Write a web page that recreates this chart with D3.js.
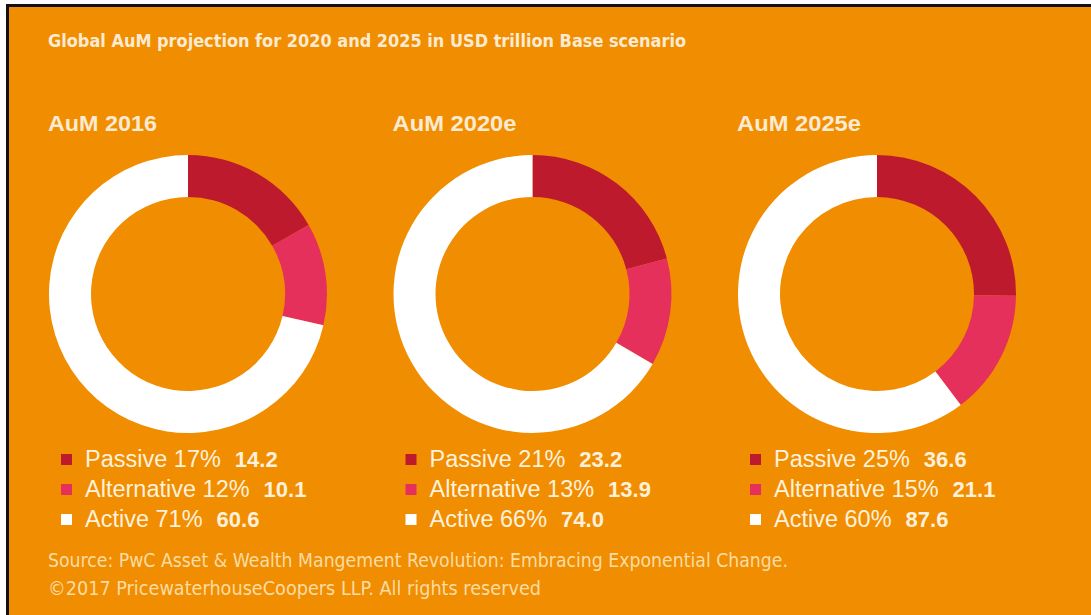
<!DOCTYPE html>
<html>
<head>
<meta charset="utf-8">
<script src="https://cdn.jsdelivr.net/npm/d3@7/dist/d3.min.js"></script>
<style>
  html, body { margin: 0; padding: 0; background: #ffffff; }
  svg { display: block; }
</style>
</head>
<body>
<svg id="chart" width="1091" height="615"></svg>
<script>
// Global assets under management, USD trillion (base scenario)
const years = ["AuM 2016", "AuM 2020e", "AuM 2025e"];
const categories = ["Passive", "Alternative", "Active"];
const passive = [14.2, 23.2, 36.6];
const alternative = [10.1, 13.9, 21.1];
const active = [60.6, 74.0, 87.6];
const passivePct = [17, 21, 25];
const alternativePct = [12, 13, 15];
const activePct = [71, 66, 60];

const title = "Global AuM projection for 2020 and 2025 in USD trillion Base scenario";
const sourceLines = [
  "Source: PwC Asset & Wealth Mangement Revolution: Embracing Exponential Change.",
  "\u00A92017 PricewaterhouseCoopers LLP. All rights reserved"
];

const W = 1091, H = 615;
const orange = "#F18D00";
const cream = "#FCEBD2";
const color = d3.scaleOrdinal()
  .domain(categories)
  .range(["#BE1A2E", "#E6305C", "#FFFFFF"]);

const svg = d3.select("#chart");

// frame: black rule along top and left edge, orange panel
svg.append("rect").attr("x", 6).attr("y", 4).attr("width", W - 6).attr("height", H - 4).attr("fill", "#111");
svg.append("rect").attr("x", 9).attr("y", 7).attr("width", W - 9).attr("height", H - 7).attr("fill", orange);

const narrow = "'DejaVu Sans Condensed', 'Liberation Sans Narrow', sans-serif";
const sans = "'Liberation Sans', Arial, Helvetica, sans-serif";

svg.append("text")
  .attr("x", 48).attr("y", 47)
  .attr("font-family", narrow).attr("font-weight", "bold").attr("font-size", 18)
  .attr("fill", cream)
  .attr("textLength", 638).attr("lengthAdjust", "spacingAndGlyphs")
  .text(title);

// one panel per year
const panel = d3.scaleBand().domain(years).range([48, 48 + 3 * 344.5]);

const rows = years.map((y, i) => ({
  year: y,
  slices: [
    { cat: "Passive", value: passive[i], pct: passivePct[i] },
    { cat: "Alternative", value: alternative[i], pct: alternativePct[i] },
    { cat: "Active", value: active[i], pct: activePct[i] }
  ]
}));

const pie = d3.pie().sort(null).value(d => d.value);
const arc = d3.arc().innerRadius(97).outerRadius(139);

const g = svg.selectAll("g.panel").data(rows).join("g")
  .attr("class", "panel")
  .attr("transform", d => `translate(${panel(d.year)},0)`);

g.append("text")
  .attr("x", 0).attr("y", 131)
  .attr("font-family", sans).attr("font-weight", "bold").attr("font-size", 22)
  .attr("fill", cream)
  .attr("textLength", d => d.year.length === 8 ? 109 : 124)
  .attr("lengthAdjust", "spacingAndGlyphs")
  .text(d => d.year);

g.append("g")
  .attr("transform", "translate(140,294)")
  .selectAll("path")
  .data(d => pie(d.slices))
  .join("path")
  .attr("d", arc)
  .attr("fill", d => color(d.data.cat));

const leg = g.append("g").selectAll("g")
  .data(d => d.slices)
  .join("g")
  .attr("transform", (d, i) => `translate(0,${467 + i * 30})`);

leg.append("rect")
  .attr("x", 13).attr("y", -13).attr("width", 11).attr("height", 11)
  .attr("fill", d => color(d.cat));

leg.append("text")
  .attr("x", 37).attr("y", 0)
  .attr("font-family", sans).attr("font-size", 23.5)
  .attr("fill", "#FFF1DC")
  .each(function(d) {
    const t = d3.select(this);
    t.append("tspan").text(`${d.cat} ${d.pct}%`);
    t.append("tspan").attr("dx", 14).attr("font-weight", "bold").attr("font-size", 22).text(d.value.toFixed(1));
  });

svg.selectAll("text.src").data(sourceLines).join("text")
  .attr("class", "src")
  .attr("x", 48).attr("y", (d, i) => 567 + i * 28)
  .attr("font-family", narrow).attr("font-size", 19)
  .attr("fill", "#FBDCA4")
  .attr("textLength", (d, i) => i === 0 ? 740 : 493)
  .attr("lengthAdjust", "spacingAndGlyphs")
  .text(d => d);
</script>
</body>
</html>
